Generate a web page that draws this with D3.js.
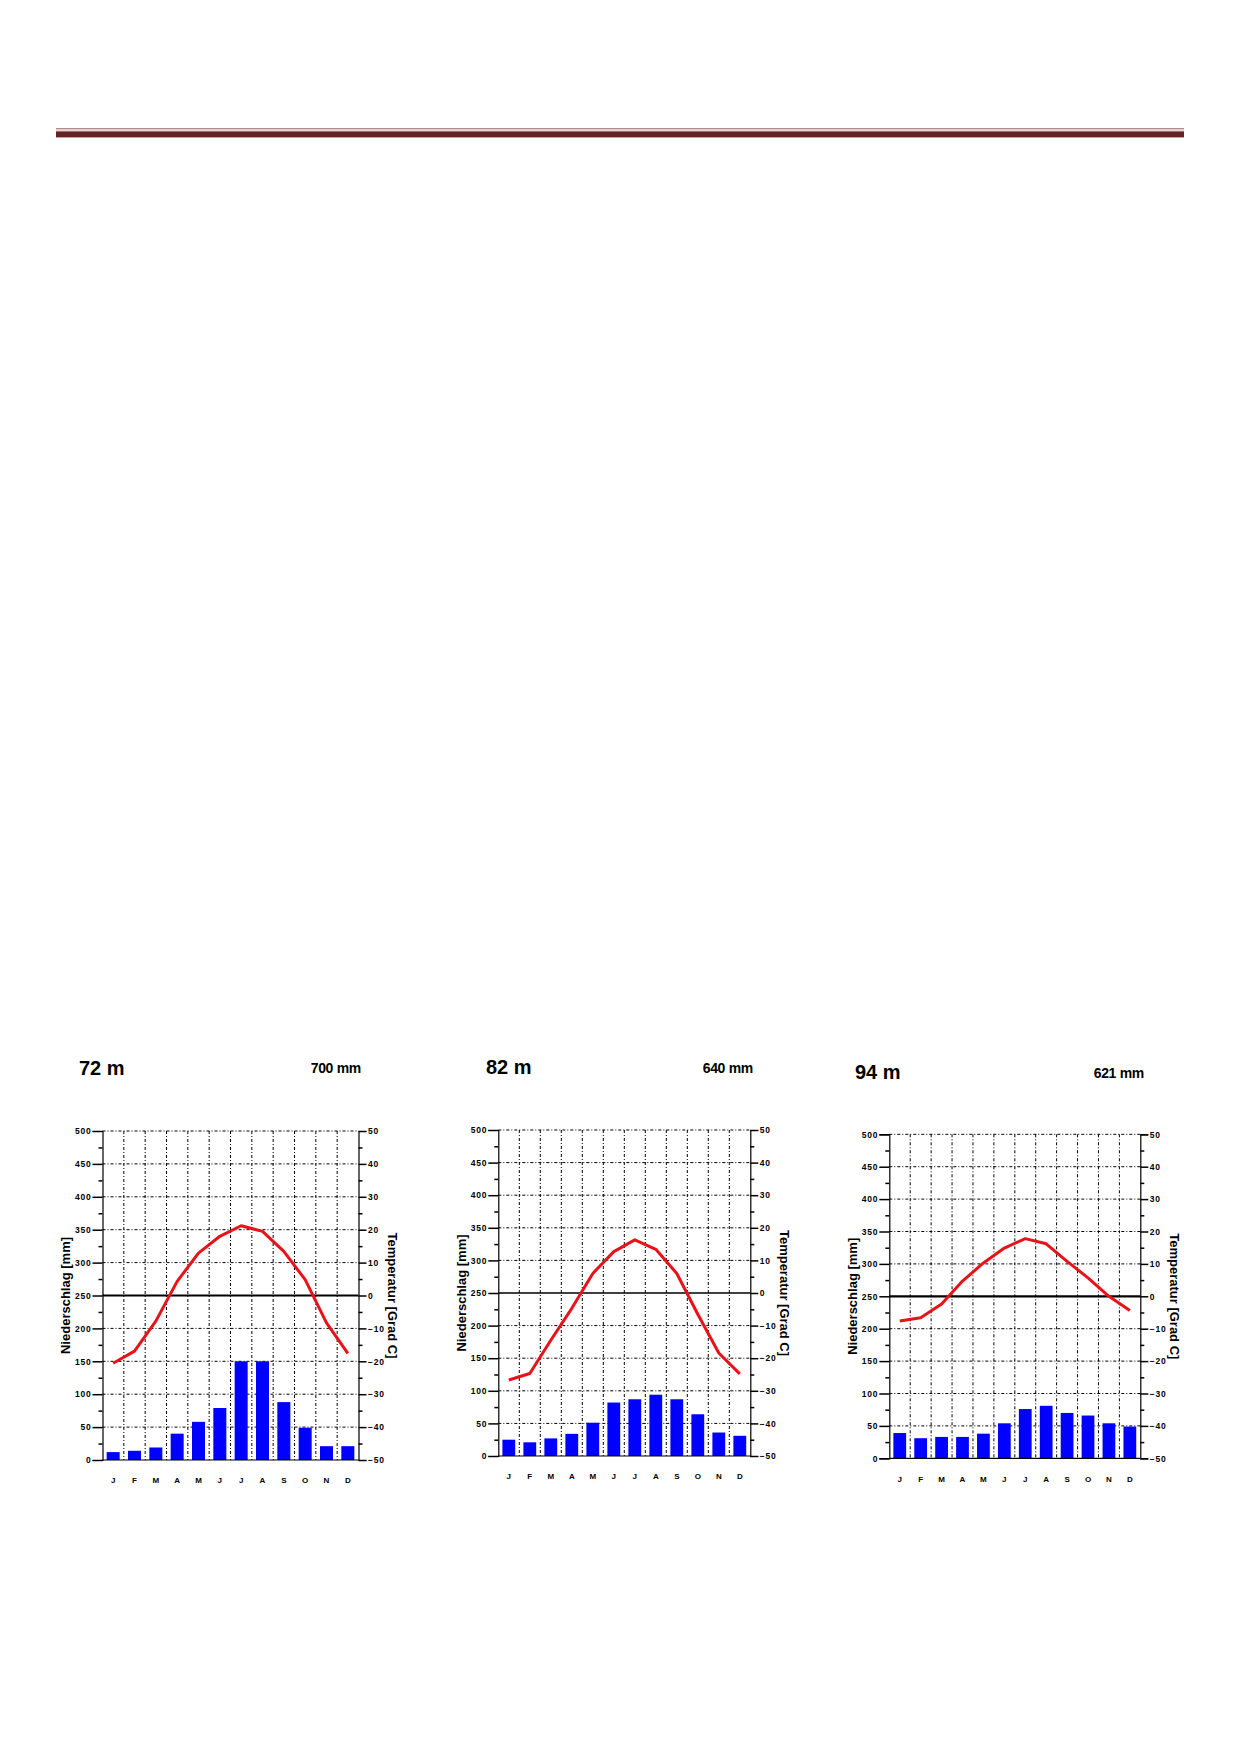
<!DOCTYPE html>
<html lang="de">
<head>
    <meta charset="UTF-8">
    <title>Klimadiagramme</title>
    <script src="https://d3js.org/d3.v7.min.js"></script>
    <style>
        body { margin: 0; background: #fff; }
        svg { display: block; }
        text { font-family: "Liberation Sans", Arial, sans-serif; }
    </style>
</head>
<body>
    <div id="page"></div>

    <script>
        // Data
        const months = ["J", "F", "M", "A", "M", "J", "J", "A", "S", "O", "N", "D"];
        const elevations = ["72 m", "82 m", "94 m"];
        const totals = ["700 mm", "640 mm", "621 mm"];

        const precip1 = [12, 14, 19, 40, 58, 79, 150, 150, 88, 49, 21, 21];
        const precip2 = [25, 21, 27, 34, 51, 82, 87, 94, 87, 64, 36, 31];
        const precip3 = [39, 31, 33, 33, 38, 54, 76, 81, 70, 66, 54, 49];

        const temp1 = [-20.6, -16.9, -7.8, 4.3, 12.9, 18, 21.2, 19.5, 13.4, 4.8, -8.3, -17.6];
        const temp2 = [-26.7, -24.7, -14.5, -4.7, 6, 12.7, 16.3, 13.4, 6, -6.5, -18.4, -24.8];
        const temp3 = [-7.6, -6.6, -2.4, 4.7, 10.3, 14.9, 17.8, 16.2, 10.8, 5.7, 0, -4.4];

        const precipTicks = d3.range(0, 501, 50);
        const tempTicks = d3.range(-50, 51, 10);

        const precipSeries = [precip1, precip2, precip3];
        const tempSeries = [temp1, temp2, temp3];

        // where each diagram sits on the page
        const layout = [
            { left: 102.5, top: 1131, width: 256, height: 329, elevX: 79, elevY: 1075, totalRight: 361, totalY: 1073, zeroW: 2.2 },
            { left: 498.3, top: 1130, width: 252, height: 326, elevX: 486, elevY: 1074, totalRight: 753, totalY: 1073, zeroW: 1.5 },
            { left: 889.3, top: 1134.3, width: 251, height: 324, elevX: 855, elevY: 1079, totalRight: 1144, totalY: 1078, zeroW: 2.2 }
        ];

        const svg = d3.select("#page").append("svg")
            .attr("width", 1239)
            .attr("height", 1752);

        // header rule
        const rule = svg.append("g");
        rule.append("rect").attr("x", 56).attr("y", 128.2).attr("width", 1128).attr("height", 1.2).attr("fill", "#9d6f6f");
        rule.append("rect").attr("x", 56).attr("y", 129.4).attr("width", 1128).attr("height", 1.9).attr("fill", "#ecd2d2");
        rule.append("rect").attr("x", 56).attr("y", 131.4).attr("width", 1128).attr("height", 6).attr("fill", "#632524");

        const dash = "3,2,1,2";

        layout.forEach((L, k) => {
            const w = L.width, h = L.height;
            const precip = precipSeries[k];
            const temp = tempSeries[k];

            // station header
            svg.append("text")
                .attr("x", L.elevX).attr("y", L.elevY)
                .attr("font-size", 20).attr("font-weight", "bold")
                .text(elevations[k]);
            svg.append("text")
                .attr("x", L.totalRight).attr("y", L.totalY)
                .attr("text-anchor", "end")
                .attr("font-size", 14).attr("font-weight", "bold")
                .attr("letter-spacing", -0.3)
                .text(totals[k]);

            const g = svg.append("g").attr("transform", `translate(${L.left},${L.top})`);

            const x = d3.scaleBand()
                .domain(d3.range(12))
                .range([0, w])
                .paddingInner(0.39)
                .paddingOuter(0.195);
            const y = d3.scaleLinear().domain([0, 500]).range([h, 0]);
            const t = d3.scaleLinear().domain([-50, 50]).range([h, 0]);

            // grid
            const grid = g.append("g").attr("stroke", "#000").attr("stroke-width", 1).attr("stroke-dasharray", dash);
            grid.selectAll("line.h")
                .data(precipTicks.filter(v => v !== 0 && v !== 250))
                .join("line")
                .attr("x1", 0).attr("x2", w)
                .attr("y1", d => y(d)).attr("y2", d => y(d));
            grid.selectAll("line.v")
                .data(d3.range(1, 12))
                .join("line")
                .attr("x1", d => x(d) - x.step() * 0.195)
                .attr("x2", d => x(d) - x.step() * 0.195)
                .attr("y1", 0).attr("y2", h);

            // precipitation bars
            g.append("g").selectAll("rect")
                .data(precip)
                .join("rect")
                .attr("x", (d, i) => x(i))
                .attr("y", d => y(d))
                .attr("width", x.bandwidth())
                .attr("height", d => h - y(d))
                .attr("fill", "#0000ff");

            // 0 degree line and baseline
            g.append("line")
                .attr("x1", 0).attr("x2", w)
                .attr("y1", t(0)).attr("y2", t(0))
                .attr("stroke", "#000").attr("stroke-width", L.zeroW);
            g.append("line")
                .attr("x1", 0).attr("x2", w)
                .attr("y1", h).attr("y2", h)
                .attr("stroke", "#000").attr("stroke-width", 1.2);

            // temperature curve
            const line = d3.line()
                .x((d, i) => x(i) + x.bandwidth() / 2)
                .y(d => t(d));
            g.append("path")
                .datum(temp)
                .attr("d", line)
                .attr("fill", "none")
                .attr("stroke", "#e8121a")
                .attr("stroke-width", 3)
                .attr("stroke-linejoin", "round");

            // left axis
            const yAxis = g.append("g")
                .call(d3.axisLeft(y).tickValues(precipTicks).tickSize(10).tickPadding(1));
            g.append("g")
                .call(d3.axisLeft(y).tickValues(d3.range(25, 500, 50)).tickSize(4).tickFormat(""))
                .select(".domain").remove();

            // right axis
            const tAxis = g.append("g")
                .attr("transform", `translate(${w},0)`)
                .call(d3.axisRight(t).tickValues(tempTicks).tickSize(8).tickPadding(1.5));
            g.append("g")
                .attr("transform", `translate(${w},0)`)
                .call(d3.axisRight(t).tickValues(d3.range(-45, 50, 10)).tickSize(4).tickFormat(""))
                .select(".domain").remove();

            g.selectAll(".domain").attr("stroke-width", 1.2);
            g.selectAll(".tick line").attr("stroke-width", 1.5);
            [yAxis, tAxis].forEach(a => a.selectAll("text")
                .attr("font-family", "'Liberation Sans', Arial, sans-serif")
                .attr("font-size", 8.5)
                .attr("font-weight", "bold")
                .attr("letter-spacing", 0.8)
                .attr("fill", "#000"));

            // month labels
            g.append("g").selectAll("text")
                .data(months)
                .join("text")
                .attr("x", (d, i) => x(i) + x.bandwidth() / 2)
                .attr("y", h + 20.5)
                .attr("dy", "0.35em")
                .attr("text-anchor", "middle")
                .attr("font-size", 8)
                .attr("font-weight", "bold")
                .text(d => d);

            // axis titles
            g.append("text")
                .attr("transform", `translate(-37,${h / 2}) rotate(-90)`)
                .attr("text-anchor", "middle")
                .attr("dy", "0.35em")
                .attr("font-size", 13)
                .attr("font-weight", "bold")
                .text("Niederschlag [mm]");
            g.append("text")
                .attr("transform", `translate(${w + 34},${h / 2}) rotate(90)`)
                .attr("text-anchor", "middle")
                .attr("dy", "0.35em")
                .attr("font-size", 13)
                .attr("font-weight", "bold")
                .text("Temperatur [Grad C]");
        });
    </script>
</body>
</html>
